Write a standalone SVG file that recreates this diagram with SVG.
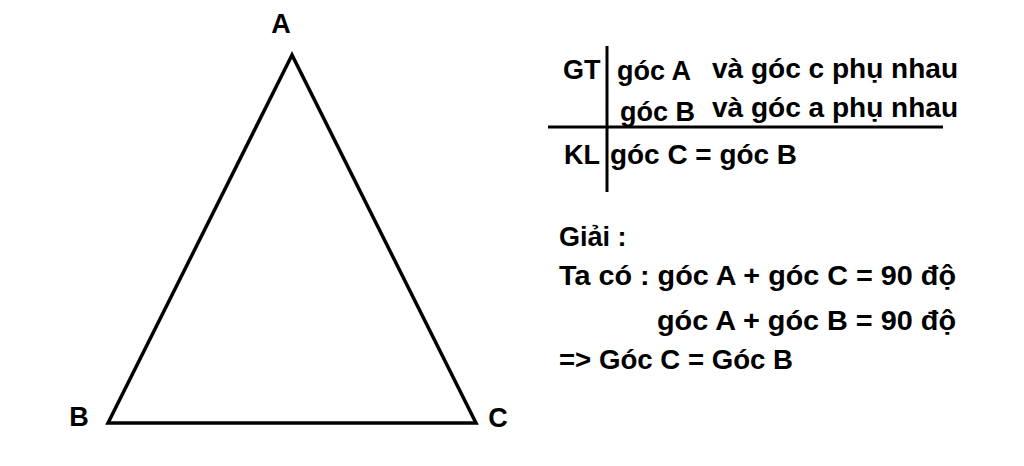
<svg xmlns="http://www.w3.org/2000/svg" width="1024" height="466" viewBox="0 0 1024 466">
<style>
text{font-family:"Liberation Sans","DejaVu Sans",sans-serif;font-weight:bold;font-size:27px;fill:#000}
.lbl{font-size:27px}
.ln{stroke:#000;stroke-width:3;fill:none}
</style>
<rect width="1024" height="466" fill="#fff"/>
<g id="triangle">
<polygon points="292,55 108,423 476,423" fill="none" stroke="#000" stroke-width="3.5" stroke-linejoin="miter"/>
</g>
<g id="vertex-A"><text class="lbl" x="281" y="33" text-anchor="middle">A</text></g>
<g id="vertex-B"><text class="lbl" x="79" y="426" text-anchor="middle">B</text></g>
<g id="vertex-C"><text class="lbl" x="498" y="427" text-anchor="middle">C</text></g>
<g id="table">
<line class="ln" x1="607" y1="46" x2="607" y2="192"/>
<line class="ln" x1="548" y1="127" x2="943" y2="127"/>
<text x="563" y="79">GT</text>
<text x="617" y="80">góc A</text>
<text x="712" y="78" textLength="246" lengthAdjust="spacingAndGlyphs">và góc c phụ nhau</text>
<text x="620" y="121">góc B</text>
<text x="712" y="117" textLength="246" lengthAdjust="spacingAndGlyphs">và góc a phụ nhau</text>
<text x="564" y="164">KL</text>
<text x="610" y="164" textLength="187" lengthAdjust="spacingAndGlyphs">góc C = góc B</text>
</g>
<g id="solution">
<text x="559" y="246">Giải :</text>
<text x="559" y="285" textLength="397" lengthAdjust="spacingAndGlyphs">Ta có : góc A + góc C = 90 độ</text>
<text x="657" y="330" textLength="299" lengthAdjust="spacingAndGlyphs">góc A + góc B = 90 độ</text>
<text x="559" y="369" textLength="234" lengthAdjust="spacingAndGlyphs">=&gt; Góc C = Góc B</text>
</g>
</svg>
